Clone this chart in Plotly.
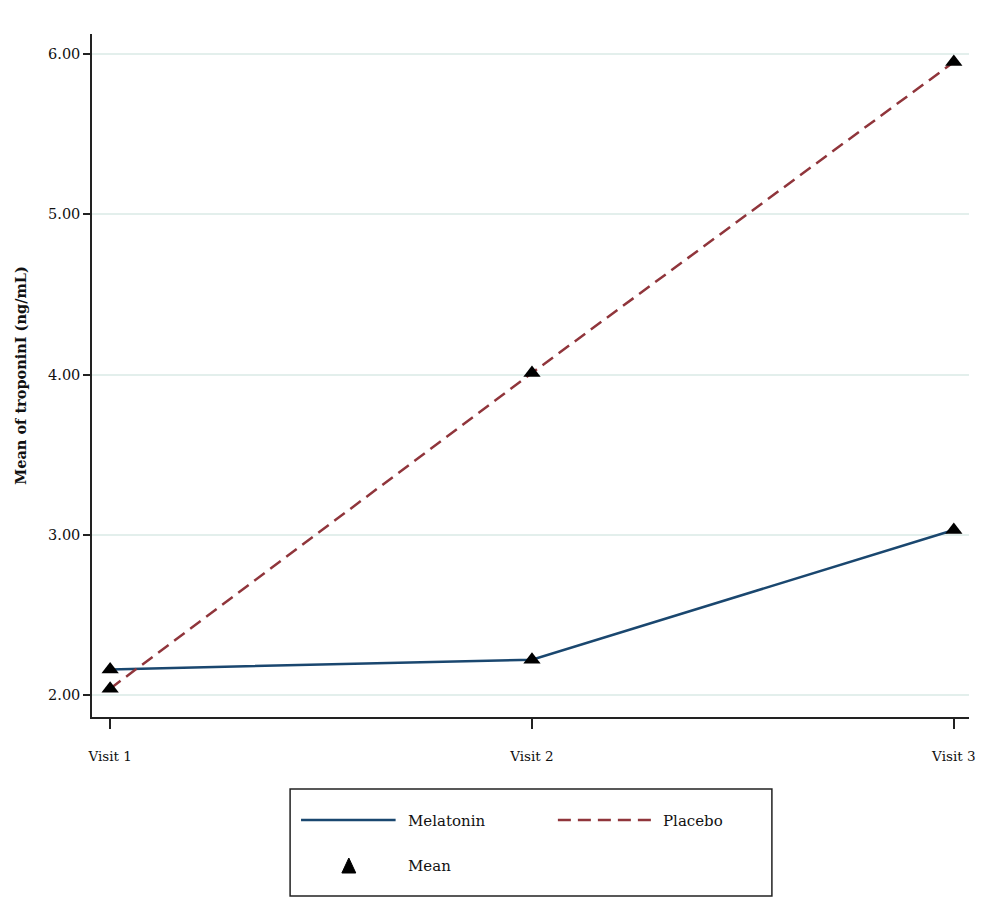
import plotly.graph_objects as go

visits = [1, 2, 3]
visit_labels = ["Visit 1", "Visit 2", "Visit 3"]
melatonin = [2.16, 2.22, 3.03]
placebo = [2.04, 4.01, 5.95]
y_ticks = [2.0, 3.0, 4.0, 5.0, 6.0]
y_tick_labels = ["2.00", "3.00", "4.00", "5.00", "6.00"]

W, H = 1000, 918
OFFX, OFFY = 9, 8  # page offset
# plot area in screen pixels: x 89..970, y 34..717
L, T = 89 - OFFX, 34 - OFFY
R = W - (970 - OFFX)
B = H - (717 - OFFY)
PW, PH = W - L - R, H - T - B

NAVY = "#1a476f"
MAROON = "#90353b"
FONT = "DejaVu Serif"
DASH = "13px,7px"

def px(x):
    return (x - OFFX - L) / PW

def py(y):
    return (H - B - (y - OFFY)) / PH

fig = go.Figure()
fig.add_trace(go.Scatter(x=visits, y=melatonin, mode="lines", name="Melatonin",
                         line=dict(color=NAVY, width=2.5), showlegend=False))
fig.add_trace(go.Scatter(x=visits, y=placebo, mode="lines", name="Placebo",
                         line=dict(color=MAROON, width=2.5, dash=DASH), showlegend=False))
fig.add_trace(go.Scatter(x=visits + visits, y=melatonin + placebo, mode="markers", name="Mean",
                         marker=dict(symbol="triangle-up", size=15, color="black"),
                         showlegend=False))

fig.update_layout(
    width=W, height=H,
    margin=dict(l=L, r=R, t=T, b=B),
    paper_bgcolor="white", plot_bgcolor="white",
    font=dict(family=FONT, color="#111111", size=13),
    xaxis=dict(range=[0.957, 3.036], tickvals=visits, ticktext=visit_labels,
               showgrid=False, zeroline=False, showline=True, linecolor="#222222", linewidth=1.5,
               ticks="outside", ticklen=10, tickwidth=1.5, tickcolor="#222222",
               ticklabelstandoff=16, tickfont=dict(size=13.5, family=FONT)),
    yaxis=dict(range=[1.863, 6.125], tickvals=y_ticks, ticktext=y_tick_labels,
               showgrid=True, gridcolor="#e3efec", gridwidth=2, zeroline=False,
               showline=True, linecolor="#222222", linewidth=1.5,
               ticks="outside", ticklen=7, tickwidth=1.5, tickcolor="#222222",
               tickfont=dict(size=14.5, family=FONT),
               title=dict(text="<b>Mean of troponinI (ng/mL)</b>", standoff=18,
                          font=dict(size=14.5, family=FONT))),
)

shapes = [
    dict(type="rect", xref="paper", yref="paper", x0=px(288), x1=px(772), y0=py(896), y1=py(789),
         line=dict(color="#222222", width=1.5), fillcolor="white"),
    dict(type="line", xref="paper", yref="paper", x0=px(299), x1=px(394), y0=py(820), y1=py(820),
         line=dict(color=NAVY, width=2.5)),
    dict(type="line", xref="paper", yref="paper", x0=px(557), x1=px(652), y0=py(820), y1=py(820),
         line=dict(color=MAROON, width=2.5, dash=DASH)),
    dict(type="path", xref="paper", yref="paper",
         path=f"M {px(340)} {py(873)} L {px(354)} {py(873)} L {px(347)} {py(858)} Z",
         fillcolor="black", line=dict(color="black", width=1)),
]
annotations = [
    dict(text="Melatonin", xref="paper", yref="paper", x=px(404), y=py(821), xanchor="left",
         yanchor="middle", showarrow=False, font=dict(size=15, family=FONT)),
    dict(text="Placebo", xref="paper", yref="paper", x=px(661), y=py(821), xanchor="left",
         yanchor="middle", showarrow=False, font=dict(size=15, family=FONT)),
    dict(text="Mean", xref="paper", yref="paper", x=px(404), y=py(866), xanchor="left",
         yanchor="middle", showarrow=False, font=dict(size=15, family=FONT)),
]
fig.update_layout(shapes=shapes, annotations=annotations)

fig.write_html("out.html")
